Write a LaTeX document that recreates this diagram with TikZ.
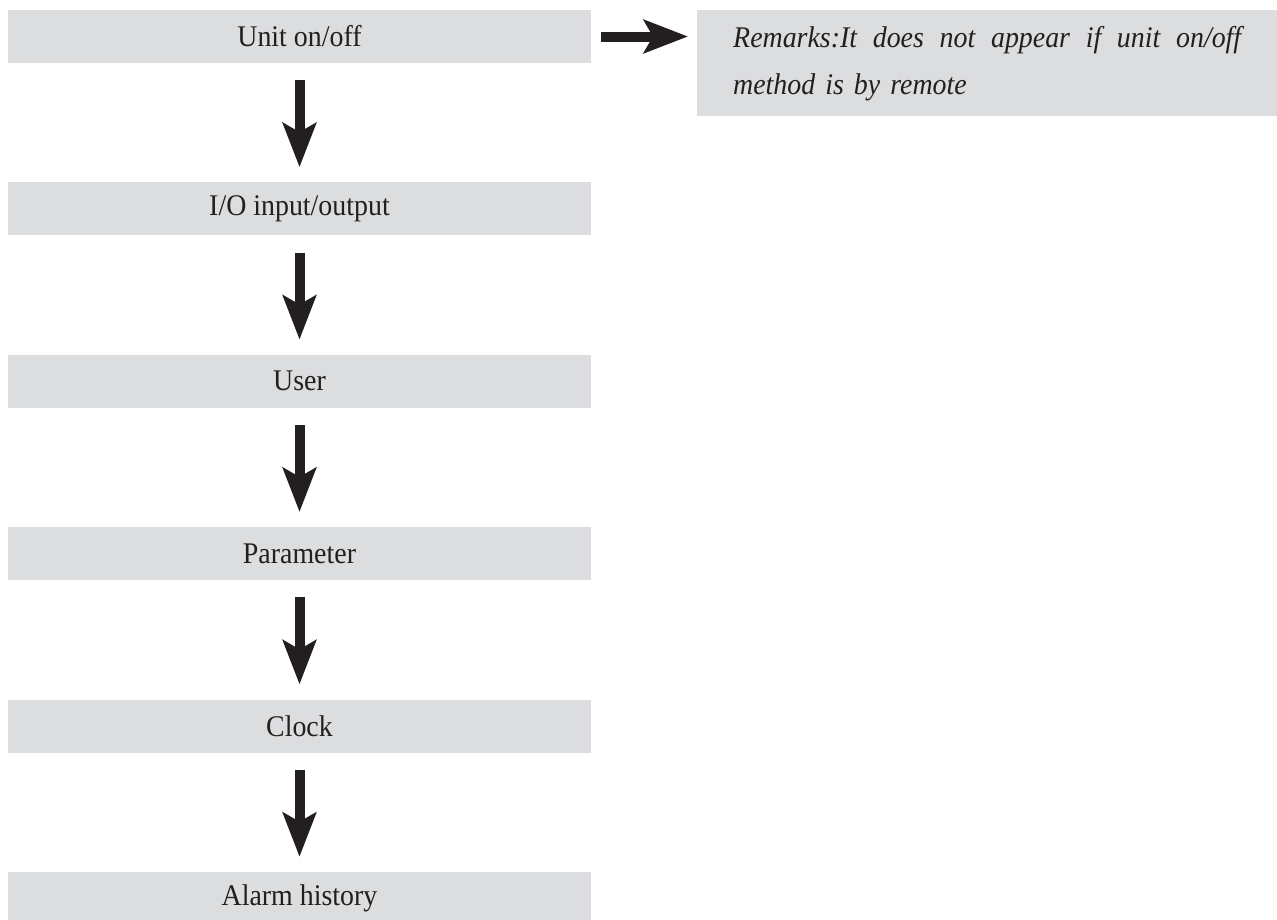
\documentclass[tikz,border=0pt]{standalone}
\usepackage{fontspec}
\setmainfont{Liberation Serif}[FakeStretch=0.93]
\usetikzlibrary{arrows.meta}
\definecolor{boxgray}{RGB}{220,221,223}
\definecolor{arrowblk}{RGB}{35,31,32}
\tikzset{
  menubox/.style={fill=boxgray, draw=none, minimum width=583pt, minimum height=53pt,
    inner sep=0pt, font=\fontsize{30}{34}\selectfont, text=arrowblk},
  bigarrow/.style={draw=arrowblk, line width=10pt,
    -{Stealth[length=44pt, width=33pt, inset=9pt, fill=arrowblk]}},
}
\begin{document}
\begin{tikzpicture}[x=1pt,y=1pt]
\useasboundingbox (0,0) rectangle (1277,-919);
\clip (0,0) rectangle (1277,-919);
\node[menubox] (u)  at (299.5,-36.5) {Unit on/off};
\node[menubox] (io) at (299.5,-208.9) {I/O input/output};
\node[menubox] (us) at (299.5,-381.3) {User};
\node[menubox] (pa) at (299.5,-553.7) {Parameter};
\node[menubox] (cl) at (299.5,-726.1) {Clock};
\node[menubox] (al) at (299.5,-898.5) {Alarm history};
\node[fill=boxgray, anchor=north west, text width=508pt, inner xsep=36pt, inner ysep=0pt,
  minimum height=106pt, align=left, font=\fontsize{30}{47}\selectfont\itshape, text=arrowblk]
  (rm) at (697,-10) {\makebox[508pt][l]{Remarks:It\hfill does\hfill not\hfill appear\hfill if\hfill unit\hfill on/off}\\method is by remote};
\draw[bigarrow, shorten <=17pt, shorten >=15pt] (u) -- (io);
\draw[bigarrow, shorten <=17pt, shorten >=15pt] (io) -- (us);
\draw[bigarrow, shorten <=17pt, shorten >=15pt] (us) -- (pa);
\draw[bigarrow, shorten <=17pt, shorten >=15pt] (pa) -- (cl);
\draw[bigarrow, shorten <=17pt, shorten >=15pt] (cl) -- (al);
\draw[bigarrow, shorten <=10pt, shorten >=9pt] (u.east) -- (u.east -| rm.west);
\end{tikzpicture}
\end{document}
